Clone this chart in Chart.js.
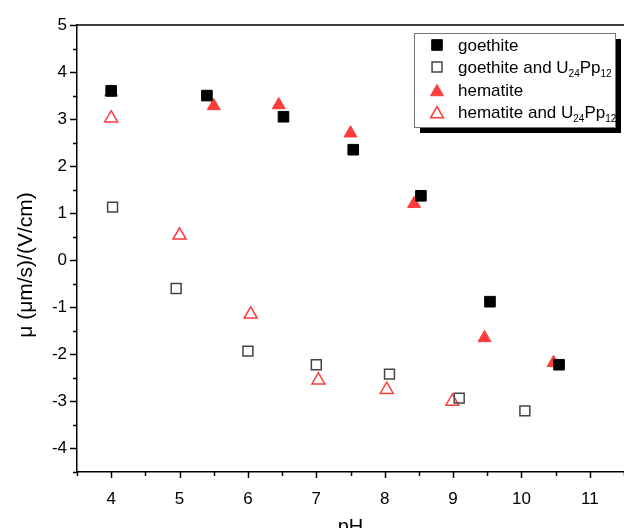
<!DOCTYPE html>
<html>
<head>
<meta charset="utf-8">
<script src="https://cdn.jsdelivr.net/npm/chart.js@4.4.0/dist/chart.umd.min.js"></script>
<style>
    html, body { margin: 0; padding: 0; background: #fff; overflow: hidden; }
    #wrap { width: 624px; height: 539px; }
</style>
</head>
<body>
<div id="wrap"><canvas id="ph-chart"></canvas></div>
<script>
// pH values and mobilities
const goethitePH = [4.0, 5.4, 6.52, 7.54, 8.53, 9.54, 10.55];
const goethiteMu = [3.6, 3.5, 3.05, 2.35, 1.37, -0.88, -2.22];

const goethiteUPH = [4.02, 4.95, 6.0, 7.0, 8.07, 9.09, 10.05];
const goethiteUMu = [1.13, -0.6, -1.93, -2.22, -2.42, -2.93, -3.2];

const hematitePH = [4.0, 5.5, 6.45, 7.5, 8.43, 9.46, 10.47];
const hematiteMu = [3.57, 3.28, 3.3, 2.7, 1.2, -1.65, -2.18];

const hematiteUPH = [4.0, 5.0, 6.04, 7.03, 8.03, 8.99];
const hematiteUMu = [3.02, 0.53, -1.15, -2.55, -2.75, -3.0];

const seriesNames = ['goethite', 'goethite and U24Pp12', 'hematite', 'hematite and U24Pp12'];

const RED = '#ff3c3c';
const FONT = '"Liberation Sans", Arial, sans-serif';

function toPoints(xs, ys) {
    return xs.map((x, i) => ({x: x, y: ys[i]}));
}

function intLabel(v) {
    return Number.isInteger(v) ? v : '';
}

// tick marks (major + minor), top frame line, y title and boxed legend
const decorPlugin = {
    id: 'decor',
    afterDraw(chart) {
        const ctx = chart.ctx;
        const area = chart.chartArea;
        const xs = chart.scales.x;
        const ys = chart.scales.y;
        ctx.save();
        ctx.strokeStyle = '#000';
        ctx.lineWidth = 1.5;

        ctx.beginPath();
        ctx.moveTo(area.left, area.top);
        ctx.lineTo(area.right, area.top);
        ctx.stroke();

        xs.ticks.forEach(t => {
            const px = Math.round(xs.getPixelForValue(t.value)) + 0.5;
            const len = Number.isInteger(t.value) ? 6 : 4;
            ctx.beginPath();
            ctx.moveTo(px, area.bottom);
            ctx.lineTo(px, area.bottom + len);
            ctx.stroke();
        });
        ys.ticks.forEach(t => {
            const py = Math.round(ys.getPixelForValue(t.value)) + 0.5;
            const len = Number.isInteger(t.value) ? 7 : 4;
            ctx.beginPath();
            ctx.moveTo(area.left, py);
            ctx.lineTo(area.left - len, py);
            ctx.stroke();
        });

        // y axis title
        ctx.save();
        ctx.translate(26, 265);
        ctx.rotate(-Math.PI / 2);
        ctx.fillStyle = '#000';
        ctx.font = '21px ' + FONT;
        ctx.textAlign = 'center';
        ctx.textBaseline = 'middle';
        ctx.fillText('\u03bc (\u03bcm/s)/(V/cm)', 0, 0);
        ctx.restore();

        // legend box with drop shadow
        const bx = 414, by = 33, bw = 201, bh = 94;
        ctx.fillStyle = '#000';
        ctx.fillRect(bx + 6, by + 6, bw, bh);
        ctx.fillStyle = '#fff';
        ctx.fillRect(bx, by, bw, bh);
        ctx.strokeStyle = '#777';
        ctx.lineWidth = 1;
        ctx.strokeRect(bx + 0.5, by + 0.5, bw, bh);

        const rows = [45, 67, 90, 112];
        chart.data.datasets.forEach((ds, i) => {
            const y = rows[i];
            const style = {
                pointStyle: ds.pointStyle,
                radius: ds.pointRadius,
                borderWidth: ds.borderWidth,
                rotation: 0
            };
            ctx.fillStyle = ds.backgroundColor;
            ctx.strokeStyle = ds.borderColor;
            ctx.lineWidth = ds.borderWidth;
            Chart.helpers.drawPoint(ctx, style, 437, ds.pointStyle === 'triangle' ? y + 2 : y);

            ctx.fillStyle = '#000';
            ctx.textBaseline = 'alphabetic';
            ctx.textAlign = 'left';
            let x = 458;
            const base = y + 6;
            const name = seriesNames[i];
            const m = name.match(/^(.* U)24Pp12$/);
            ctx.font = '17px ' + FONT;
            if (!m) {
                ctx.fillText(name, x, base);
            } else {
                const parts = [[m[1], false], ['24', true], ['Pp', false], ['12', true]];
                parts.forEach(p => {
                    ctx.font = (p[1] ? '10px ' : '17px ') + FONT;
                    ctx.fillText(p[0], x, p[1] ? base + 4 : base);
                    x += ctx.measureText(p[0]).width;
                });
            }
        });
        ctx.restore();
    }
};

const ctx = document.getElementById('ph-chart');
const myChart = new Chart(ctx, {
    type: 'scatter',
    data: {
        datasets: [{
            label: seriesNames[0],
            data: toPoints(goethitePH, goethiteMu),
            pointStyle: 'rect',
            pointRadius: 7.5,
            backgroundColor: '#000',
            borderColor: '#000',
            borderWidth: 1
        }, {
            label: seriesNames[1],
            data: toPoints(goethiteUPH, goethiteUMu),
            pointStyle: 'rect',
            pointRadius: 7,
            backgroundColor: 'rgba(255,255,255,0)',
            borderColor: '#444',
            borderWidth: 1.5
        }, {
            label: seriesNames[2],
            data: toPoints(hematitePH, hematiteMu),
            pointStyle: 'triangle',
            pointRadius: 7.5,
            backgroundColor: RED,
            borderColor: RED,
            borderWidth: 1
        }, {
            label: seriesNames[3],
            data: toPoints(hematiteUPH, hematiteUMu),
            pointStyle: 'triangle',
            pointRadius: 7.5,
            backgroundColor: 'rgba(255,255,255,0)',
            borderColor: RED,
            borderWidth: 1.5
        }]
    },
    options: {
        responsive: true,
        maintainAspectRatio: false,
        animation: false,
        devicePixelRatio: 1,
        layout: {
            autoPadding: false,
            padding: {top: 25, right: 0, left: 0, bottom: 0}
        },
        plugins: {
            legend: {display: false},
            tooltip: {enabled: false}
        },
        scales: {
            x: {
                type: 'linear',
                min: 3.5,
                max: 11.5,
                afterFit: s => {
                    s.height = 67;
                    s.paddingLeft = 0;
                    s.paddingRight = 0;
                },
                ticks: {
                    stepSize: 0.5,
                    autoSkip: false,
                    maxRotation: 0,
                    callback: intLabel,
                    color: '#000',
                    padding: 11,
                    font: {family: FONT, size: 17}
                },
                grid: {display: false, drawTicks: true, tickLength: 6},
                border: {color: '#000', width: 1.5},
                title: {
                    display: true,
                    text: 'pH',
                    color: '#000',
                    padding: {top: 0, bottom: 0},
                    font: {family: FONT, size: 20}
                }
            },
            y: {
                min: -4.5,
                max: 5,
                afterFit: s => {
                    s.width = 77;
                    s.paddingTop = 0;
                    s.paddingBottom = 0;
                },
                ticks: {
                    stepSize: 0.5,
                    autoSkip: false,
                    callback: intLabel,
                    color: '#000',
                    padding: 3,
                    font: {family: FONT, size: 17}
                },
                grid: {display: false, drawTicks: true, tickLength: 7},
                border: {color: '#000', width: 1.5}
            }
        }
    },
    plugins: [decorPlugin]
});
</script>
</body>
</html>
